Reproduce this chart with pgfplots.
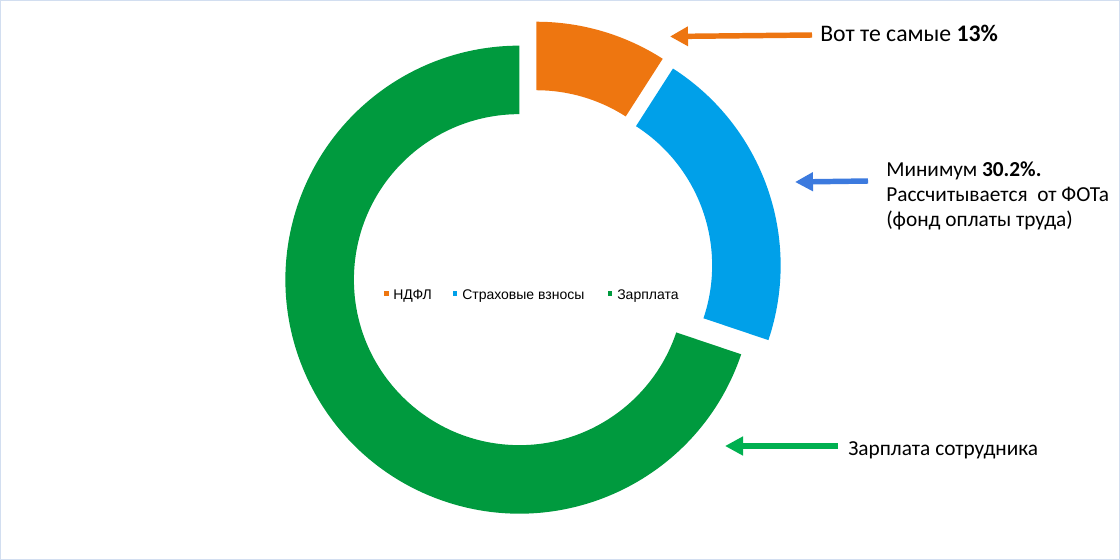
\documentclass[border=0pt]{standalone}
\usepackage{pgfplots}
\pgfplotsset{compat=1.18}
\usepackage{pgfplotstable}
\usetikzlibrary{arrows.meta}
\usepackage{fontspec}
\setmainfont{Carlito}
\newfontfamily\arialfont{Liberation Sans}
\definecolor{cOrange}{RGB}{238,118,16}
\definecolor{cBlue}{RGB}{0,160,233}
\definecolor{cGreen}{RGB}{0,154,62}
\definecolor{aOrange}{RGB}{237,117,17}
\definecolor{aBlue}{RGB}{60,122,222}
\definecolor{aGreen}{RGB}{0,176,80}
\definecolor{frame}{RGB}{210,222,240}

\pgfplotstableread{
part value
NDFL 13
Vznosy 30.2
Zarplata 100
}\donutdata

\newcommand\setg[2]{\pgfmathsetmacro\tmpv{#2}\expandafter\global\expandafter\let\csname#1\endcsname\tmpv}
% geometry in pixel units
\def\cx{532}\def\cy{270.6}\def\R{234}\def\r{165.5}\def\dd{15.5}
\newcommand\wedgecalc[3]{%
  \pgfmathsetmacro\mm{(#2+#3)/2}%
  \setg{#1ox}{\cx+\dd*sin(\mm)+\R*sin(#2)}%
  \setg{#1oy}{\cy-\dd*cos(\mm)-\R*cos(#2)}%
  \setg{#1ix}{\cx+\dd*sin(\mm)+\r*sin(#3)}%
  \setg{#1iy}{\cy-\dd*cos(\mm)-\r*cos(#3)}%
  \setg{#1pa}{90-(#2)}%
  \setg{#1pb}{90-(#3)}%
}

\begin{document}
\begin{tikzpicture}
\pgfplotstablegetelem{0}{value}\of\donutdata \let\vA\pgfplotsretval
\pgfplotstablegetelem{1}{value}\of\donutdata \let\vB\pgfplotsretval
\pgfplotstablegetelem{2}{value}\of\donutdata \let\vC\pgfplotsretval
\pgfmathsetmacro\tot{\vA+\vB+\vC}
\pgfmathsetmacro\tA{360*\vA/\tot}
\pgfmathsetmacro\tB{\tA+360*\vB/\tot}
\wedgecalc{WA}{0}{\tA}
\wedgecalc{WB}{\tA}{\tB}
\wedgecalc{WC}{\tB}{360}
\begin{axis}[
  width=840pt, height=420pt, scale only axis,
  xmin=0, xmax=1120, ymin=0, ymax=560, y dir=reverse,
  hide axis, clip=false,
]
\draw[frame, line width=0.75pt] (axis cs:0.5,0.5) rectangle (axis cs:1119.5,559.5);
\fill[cOrange] (axis cs:\WAox,\WAoy) arc[start angle=\WApa, end angle=\WApb, radius=175.5pt]
  -- (axis cs:\WAix,\WAiy) arc[start angle=\WApb, end angle=\WApa, radius=124.125pt] -- cycle;
\fill[cBlue] (axis cs:\WBox,\WBoy) arc[start angle=\WBpa, end angle=\WBpb, radius=175.5pt]
  -- (axis cs:\WBix,\WBiy) arc[start angle=\WBpb, end angle=\WBpa, radius=124.125pt] -- cycle;
\fill[cGreen] (axis cs:\WCox,\WCoy) arc[start angle=\WCpa, end angle=\WCpb, radius=175.5pt]
  -- (axis cs:\WCix,\WCiy) arc[start angle=\WCpb, end angle=\WCpa, radius=124.125pt] -- cycle;
% legend
\fill[cOrange] (axis cs:384,291.3) rectangle (axis cs:388.5,295.7);
\fill[cBlue] (axis cs:452.5,291.3) rectangle (axis cs:457,295.7);
\fill[cGreen] (axis cs:607.5,291.3) rectangle (axis cs:612,295.7);
\node[anchor=base west, inner sep=0pt, font=\arialfont\fontsize{10.5pt}{12pt}\selectfont] at (axis cs:393,299.3) {НДФЛ};
\node[anchor=base west, inner sep=0pt, font=\arialfont\fontsize{10.5pt}{12pt}\selectfont] at (axis cs:462,299.3) {Страховые взносы};
\node[anchor=base west, inner sep=0pt, font=\arialfont\fontsize{10.5pt}{12pt}\selectfont] at (axis cs:617,299.3) {Зарплата};
% arrows
\draw[aOrange, line width=4.1pt, -{Triangle[length=13.5pt, width=14pt]}] (axis cs:812,35) -- (axis cs:670,36.5);
\draw[aBlue, line width=4.1pt, -{Triangle[length=13.5pt, width=13.5pt]}] (axis cs:868,181) -- (axis cs:795,182);
\draw[aGreen, line width=4.1pt, -{Triangle[length=13.5pt, width=13.5pt]}] (axis cs:838,446) -- (axis cs:725,446);
% annotations
\node[anchor=base west, inner sep=0pt, font=\fontsize{17.8pt}{21pt}\selectfont] at (axis cs:820,41.7) {Вот те самые \textbf{13\%}};
\node[anchor=base west, inner sep=0pt, font=\fontsize{16pt}{19pt}\selectfont] at (axis cs:886,176.7) {Минимум \textbf{30.2\%.}};
\node[anchor=base west, inner sep=0pt, font=\fontsize{16pt}{19pt}\selectfont] at (axis cs:886,201.7) {Рассчитывается\ \ от ФОТа};
\node[anchor=base west, inner sep=0pt, font=\fontsize{16pt}{19pt}\selectfont] at (axis cs:886,226.7) {(фонд оплаты труда)};
\node[anchor=base west, inner sep=0pt, font=\fontsize{16pt}{19pt}\selectfont] at (axis cs:848,455) {Зарплата сотрудника};
\end{axis}
\end{tikzpicture}
\end{document}
